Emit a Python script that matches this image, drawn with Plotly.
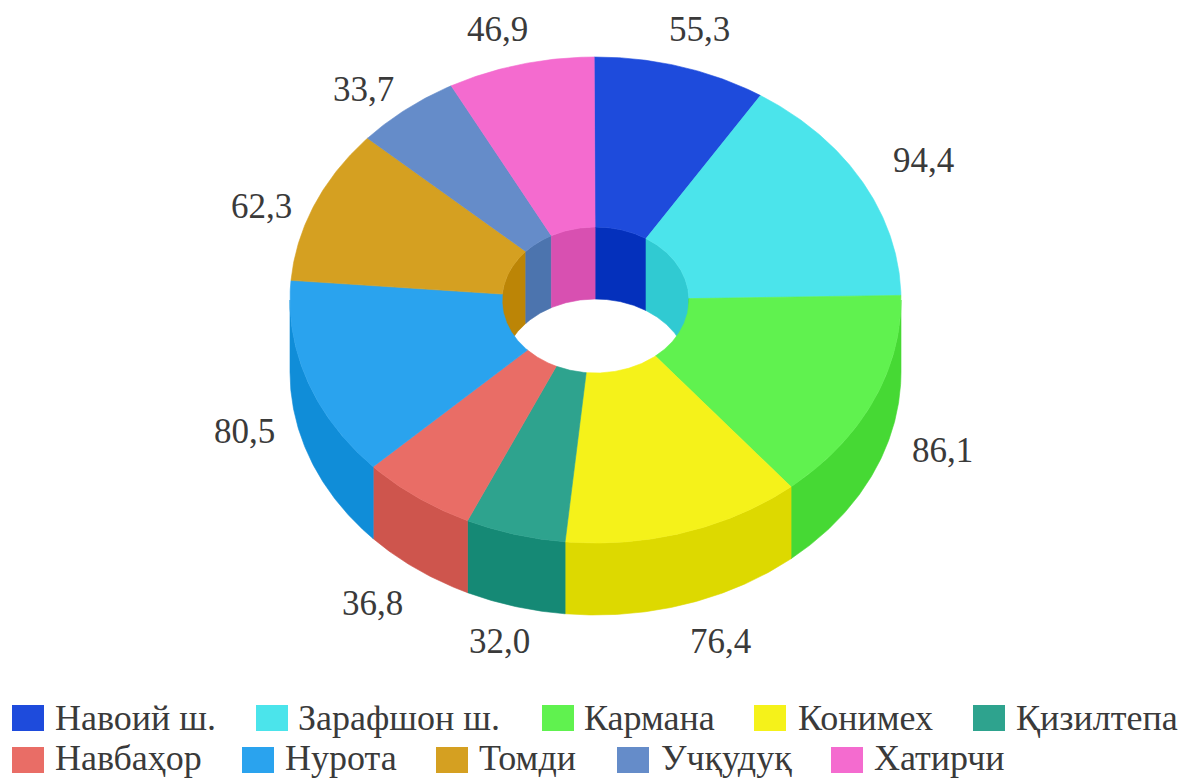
import numpy as np
import plotly.graph_objects as go

CATEGORIES = ["Навоий ш.", "Зарафшон ш.", "Кармана", "Конимех", "Қизилтепа",
              "Навбаҳор", "Нурота", "Томди", "Учқудуқ", "Хатирчи"]
VALUES = [55.3, 94.4, 86.1, 76.4, 32.0, 36.8, 80.5, 62.3, 33.7, 46.9]
VALUE_LABELS = ["55,3", "94,4", "86,1", "76,4", "32,0", "36,8", "80,5", "62,3", "33,7", "46,9"]
TOP_COLORS = ["#1E4BDC", "#4BE4EB", "#60F24F", "#F5F21A", "#2EA38E",
              "#E96D66", "#2AA3EE", "#D5A021", "#658CC9", "#F46BCF"]
WALL_COLORS = ["#0430BC", "#30CAD2", "#46D934", "#DDD900", "#158975",
               "#CE554D", "#108DD8", "#BC8506", "#4C74AE", "#D850B1"]

# layout of the drawing (pixels of the page)
CX, CY, RX, RY = 595.5, 300, 305.5, 243
IRX, IRY = 93.5, 73
DEPTH = 72
START_ANGLE = -0.25
LABEL_POS = [(699, 29), (923, 160), (942, 450), (720, 641), (499, 641),
             (372, 603), (244, 431), (261, 206), (363, 89), (497, 29)]
LEGEND_SWATCH_X = [12, 256, 542, 754, 973, 12, 242, 436, 617, 831]
LEGEND_TEXT_X = [55, 298, 584, 798, 1016, 55, 285, 479, 661, 874]
LEGEND_ROW_Y = [718, 760]
LEGEND_TEXT_BOTTOM = [738, 777.5]
SWATCH_W, SWATCH_H = 32, 26
FONT = "Liberation Serif"
TEXT = "#3A3A3A"


def ell(t, rx, ry, dy=0):
    t = np.radians(t)
    return CX + rx * np.sin(t), CY - ry * np.cos(t) + dy


def span(a, b):
    n = max(int(abs(b - a)) * 2, 1) + 1
    return np.linspace(a, b, n)


def wall(a, b, rx, ry):
    t = span(a, b)
    x0, y0 = ell(t, rx, ry)
    x1, y1 = ell(t[::-1], rx, ry, DEPTH)
    return np.r_[x0, x1, x0[0]], np.r_[y0, y1, y0[0]]


def top(a, b):
    t = span(a, b)
    x0, y0 = ell(t, RX, RY)
    x1, y1 = ell(t[::-1], IRX, IRY)
    return np.r_[x0, x1, x0[0]], np.r_[y0, y1, y0[0]]


fracs = np.cumsum([0] + VALUES) / sum(VALUES) * 360 + START_ANGLE
fig = go.Figure()


def add(x, y, color, name):
    fig.add_trace(go.Scatter(x=x, y=y, mode="lines", fill="toself", fillcolor=color,
                             line=dict(color=color, width=0.6), name=name,
                             hoverinfo="name", showlegend=False))


# inner wall: only the far half of the hole is visible
for i, name in enumerate(CATEGORIES):
    a, b = fracs[i], fracs[i + 1]
    for lo, hi in ((-90, 90), (270, 450)):
        l, h = max(a, lo), min(b, hi)
        if h > l:
            add(*wall(l, h, IRX, IRY), WALL_COLORS[i], name)
# outer wall: only the near half of the ring is visible
for i, name in enumerate(CATEGORIES):
    l, h = max(fracs[i], 90), min(fracs[i + 1], 270)
    if h > l:
        add(*wall(l, h, RX, RY), WALL_COLORS[i], name)
# top face
for i, name in enumerate(CATEGORIES):
    add(*top(fracs[i], fracs[i + 1]), TOP_COLORS[i], name)

ann = []
for (x, y), s in zip(LABEL_POS, VALUE_LABELS):
    ann.append(dict(x=x, y=y, text=s, showarrow=False, xanchor="center", yanchor="middle",
                    font=dict(family=FONT, size=35, color=TEXT)))
shapes = []
for i, name in enumerate(CATEGORIES):
    row = i // 5
    yc = LEGEND_ROW_Y[row]
    sx = LEGEND_SWATCH_X[i]
    shapes.append(dict(type="rect", x0=sx, x1=sx + SWATCH_W, y0=yc - SWATCH_H / 2, y1=yc + SWATCH_H / 2,
                       fillcolor=TOP_COLORS[i], line=dict(width=0)))
    ann.append(dict(x=LEGEND_TEXT_X[i], y=LEGEND_TEXT_BOTTOM[row], text=name, showarrow=False,
                    xanchor="left", yanchor="bottom", borderpad=0, borderwidth=0,
                    font=dict(family=FONT, size=36, color=TEXT)))

fig.update_layout(width=1183, height=778, margin=dict(l=0, r=0, t=0, b=0),
                  paper_bgcolor="white", plot_bgcolor="white", showlegend=False,
                  annotations=ann, shapes=shapes,
                  xaxis=dict(range=[0, 1183], visible=False, fixedrange=True),
                  yaxis=dict(range=[778, 0], visible=False, fixedrange=True))
fig.write_html("out.html", config=dict(displayModeBar=False),
               post_script="document.body.style.margin='0';document.body.style.overflow='hidden';")
